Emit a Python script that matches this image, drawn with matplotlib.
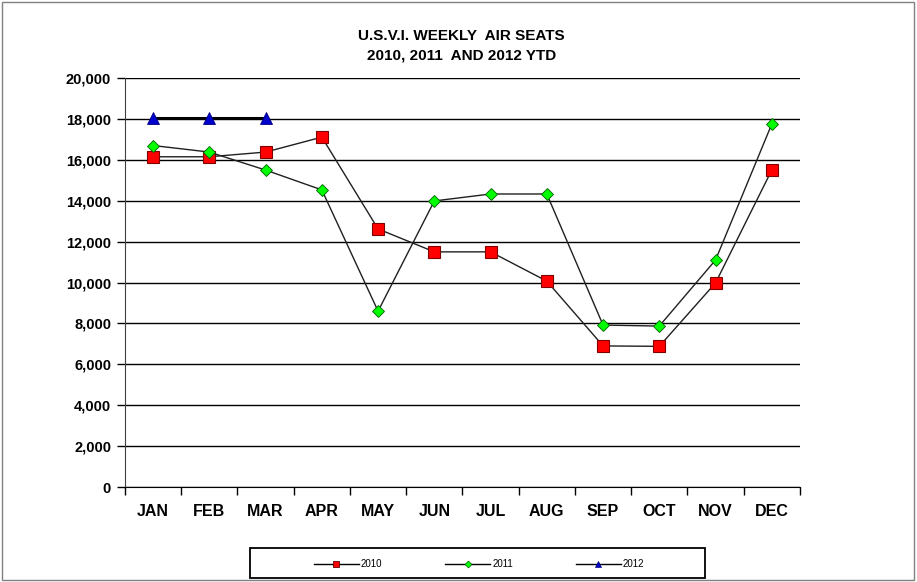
import matplotlib
matplotlib.use("Agg")
import matplotlib.pyplot as plt
from matplotlib.ticker import FuncFormatter, FixedLocator
from matplotlib.patches import Rectangle
from matplotlib.lines import Line2D

months = ["JAN", "FEB", "MAR", "APR", "MAY", "JUN", "JUL", "AUG", "SEP", "OCT", "NOV", "DEC"]
seats_2010 = [16150, 16150, 16380, 17110, 12620, 11500, 11500, 10070, 6900, 6880, 9980, 15500]
seats_2011 = [16700, 16380, 15500, 14530, 8600, 13990, 14330, 14330, 7920, 7870, 11100, 17750]
seats_2012 = [18050, 18050, 18050]
yticks = list(range(0, 20001, 2000))

plt.rcParams['font.family'] = ['Liberation Sans', 'DejaVu Sans']

fig = plt.figure(figsize=(9.17, 5.82), dpi=100)
fig.patches.append(Rectangle((0.002, 0.003), 0.995, 0.994, transform=fig.transFigure,
                             fill=False, edgecolor='#808080', linewidth=1.0))
ax = fig.add_axes([0.1363, 0.1632, 0.736, 0.7027])

x = list(range(len(months)))
ax.plot(x, seats_2010, color='#202020', lw=1.0, marker='s', markersize=9,
        markerfacecolor='#ff0000', markeredgecolor='#800000', markeredgewidth=0.8, zorder=4)
ax.plot(x, seats_2011, color='#202020', lw=1.0, marker='D', markersize=6.5,
        markerfacecolor='#00ff00', markeredgecolor='#006000', markeredgewidth=0.6, zorder=5)
ax.plot(x[:len(seats_2012)], seats_2012, color='black', lw=2.2, marker='^', markersize=9,
        markerfacecolor='#0000cc', markeredgecolor='#000080', markeredgewidth=0.6, zorder=6)

ax.set_xlim(-0.5, len(months) - 0.5)
ax.set_ylim(0, 20000)
ax.set_yticks(yticks)
ax.yaxis.set_major_formatter(FuncFormatter(lambda v, p: f"{int(v):,}"))
ax.grid(axis='y', color='black', lw=1.0)
ax.set_axisbelow(True)

ax.set_xticks(x)
ax.set_xticklabels(months, fontsize=11.5, fontweight='bold')
ax.xaxis.set_minor_locator(FixedLocator([i - 0.5 for i in range(len(months) + 1)]))
ax.tick_params(axis='x', which='major', length=0, pad=12)
ax.tick_params(axis='x', which='minor', length=6, width=1, direction='out')
ax.tick_params(axis='y', length=6, width=1, direction='out', labelsize=10.5, pad=4)
for lbl in ax.get_yticklabels():
    lbl.set_fontweight('bold')

for s in ['top', 'right']:
    ax.spines[s].set_visible(False)
ax.spines['left'].set_color('#404040')
ax.spines['bottom'].set_color('black')

fig.text(0.5035, 0.922, "U.S.V.I. WEEKLY  AIR SEATS\n2010, 2011  AND 2012 YTD", ha='center', va='center',
         fontsize=11, fontweight='bold', linespacing=1.5)

# legend
fig.patches.append(Rectangle((0.2726, 0.0069), 0.4962, 0.0515, transform=fig.transFigure,
                             fill=False, edgecolor='black', linewidth=1.3))
handles = [
    Line2D([], [], color='black', lw=1.0, marker='s', markersize=5,
           markerfacecolor='#ff0000', markeredgecolor='#600000', markeredgewidth=0.6),
    Line2D([], [], color='black', lw=1.0, marker='D', markersize=3.5,
           markerfacecolor='#00ff00', markeredgecolor='#006000', markeredgewidth=0.5),
    Line2D([], [], color='black', lw=1.0, marker='^', markersize=5,
           markerfacecolor='#0000cc', markeredgecolor='#000080', markeredgewidth=0.5),
]
fig.legend(handles, ['2010', '2011', '2012'], loc='center', bbox_to_anchor=(0.5225, 0.0305),
           ncol=3, fontsize=7, frameon=False, columnspacing=6.5,
           handlelength=4.6, handletextpad=0.2)

fig.savefig("out.png", dpi=100)
